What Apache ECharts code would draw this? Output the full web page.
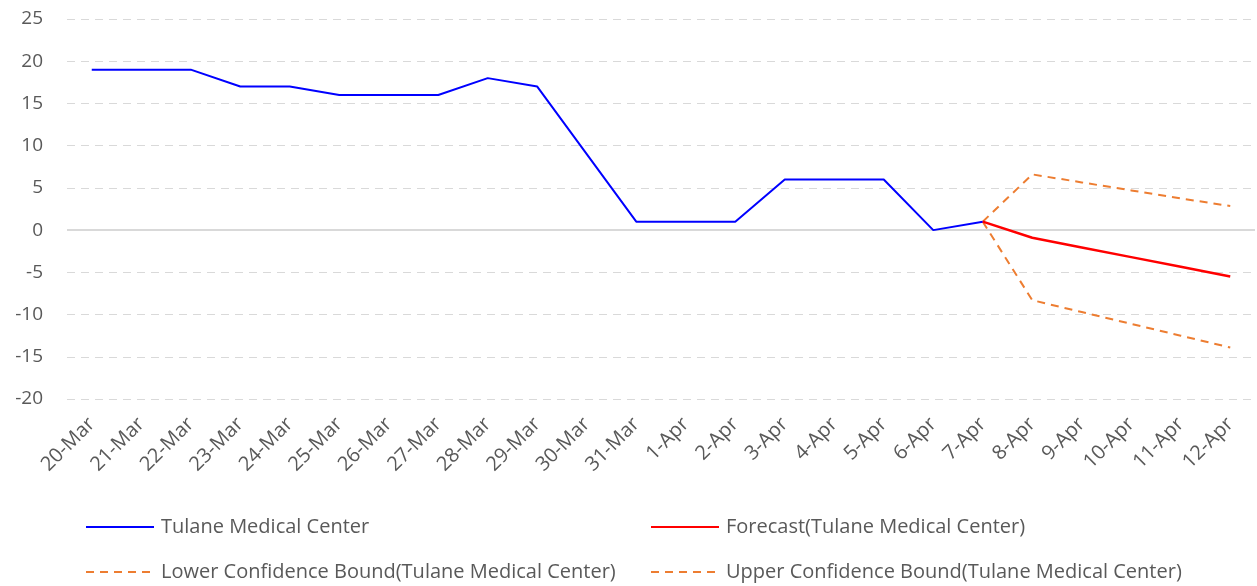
<!DOCTYPE html>
<html style="height: 100%">
<head>
    <meta charset="utf-8">
    <script src="https://cdn.jsdelivr.net/npm/echarts@6/dist/echarts.min.js"></script>
</head>
<body style="height: 100%; margin: 0">
<div id="container" style="width: 1257px; height: 586px"></div>

<script type="text/javascript">
    var days = ['20-Mar', '21-Mar', '22-Mar', '23-Mar', '24-Mar', '25-Mar', '26-Mar', '27-Mar', '28-Mar', '29-Mar',
        '30-Mar', '31-Mar', '1-Apr', '2-Apr', '3-Apr', '4-Apr', '5-Apr', '6-Apr', '7-Apr',
        '8-Apr', '9-Apr', '10-Apr', '11-Apr', '12-Apr'];
    var actual = [19, 19, 19, 17, 17, 16, 16, 16, 18, 17, 9, 1, 1, 1, 6, 6, 6, 0, 1,
        null, null, null, null, null];
    var forecast = [null, null, null, null, null, null, null, null, null, null, null, null, null, null, null, null, null, null,
        1, -0.9, -2.05, -3.2, -4.35, -5.5];
    var lowerBound = [null, null, null, null, null, null, null, null, null, null, null, null, null, null, null, null, null, null,
        1, -8.3, -9.7, -11.1, -12.5, -13.9];
    var upperBound = [null, null, null, null, null, null, null, null, null, null, null, null, null, null, null, null, null, null,
        1, 6.6, 5.65, 4.7, 3.75, 2.85];

    var names = ['Tulane Medical Center', 'Forecast(Tulane Medical Center)',
        'Lower Confidence Bound(Tulane Medical Center)', 'Upper Confidence Bound(Tulane Medical Center)'];

    var font = '"Open Sans", sans-serif';
    var textGrey = '#595959';

    function legendAt(name, left, top) {
        return {
            data: [name],
            left: left,
            top: top,
            itemWidth: 68,
            itemHeight: 14,
            itemGap: 0,
            itemStyle: {opacity: 0},
            textStyle: {fontFamily: font, fontSize: 20, color: textGrey, padding: [0, 0, 0, 2]},
            selectedMode: false
        };
    }

    var myChart = echarts.init(document.getElementById('container'));
    myChart.setOption({
        animation: false,
        grid: {left: 67, right: 2, top: 19, bottom: 187},
        legend: [
            legendAt(names[0], 80, 512),
            legendAt(names[1], 645, 512),
            legendAt(names[2], 80, 557),
            legendAt(names[3], 645, 557)
        ],
        xAxis: {
            type: 'category',
            data: days,
            axisLine: {show: false},
            axisTick: {show: false},
            axisLabel: {
                rotate: 45,
                interval: 0,
                margin: 22,
                fontFamily: font,
                fontSize: 20,
                color: textGrey
            },
            splitLine: {show: false}
        },
        yAxis: {
            type: 'value',
            min: -20,
            max: 25,
            interval: 5,
            axisLine: {show: false},
            axisTick: {show: false},
            axisLabel: {margin: 24, fontFamily: font, fontSize: 19, color: textGrey},
            splitLine: {lineStyle: {color: '#d9d9d9', type: [8, 6], width: 1}}
        },
        series: [
            {
                name: names[0],
                type: 'line',
                data: actual,
                symbol: 'none',
                lineStyle: {color: '#0000ff', width: 2},
                itemStyle: {color: '#0000ff'},
                z: 3,
                markLine: {
                    silent: true,
                    symbol: 'none',
                    label: {show: false},
                    lineStyle: {color: '#d9d9d9', type: 'solid', width: 2},
                    data: [{yAxis: 0}],
                    z: 1
                }
            },
            {
                name: names[1],
                type: 'line',
                data: forecast,
                symbol: 'none',
                lineStyle: {color: '#ff0000', width: 2.5},
                itemStyle: {color: '#ff0000'},
                z: 3
            },
            {
                name: names[2],
                type: 'line',
                data: lowerBound,
                symbol: 'none',
                lineStyle: {color: '#ed7d31', width: 2, type: [8, 6]},
                itemStyle: {color: '#ed7d31'},
                z: 2
            },
            {
                name: names[3],
                type: 'line',
                data: upperBound,
                symbol: 'none',
                lineStyle: {color: '#ed7d31', width: 2, type: [8, 6]},
                itemStyle: {color: '#ed7d31'},
                z: 2
            }
        ]
    });
</script>
</body>
</html>
